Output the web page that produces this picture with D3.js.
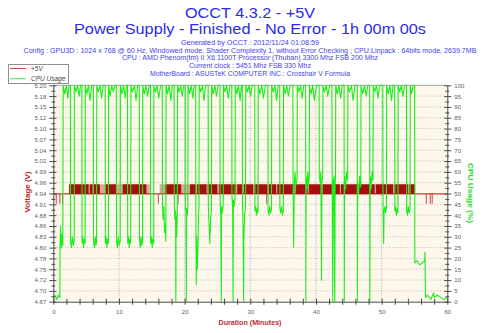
<!DOCTYPE html>
<html><head><meta charset="utf-8">
<script src="https://cdn.jsdelivr.net/npm/d3@7/dist/d3.min.js"></script>
<style>html,body{margin:0;padding:0;background:#fff;overflow:hidden}</style>
</head><body>
<svg id="c" width="500" height="333"></svg>
<script>
// ---------------- data ----------------
const titleLines = ["OCCT 4.3.2 - +5V", "Power Supply - Finished - No Error - 1h 00m 00s"];
const infoLines = [
  "Generated by OCCT : 2012/11/24 01:08:59",
  "Config : GPU3D : 1024 x 768 @ 60 Hz, Windowed mode, Shader Complexity 1, without Error Checking ; CPU:Linpack : 64bits mode, 2639.7MB",
  "CPU : AMD Phenom(tm) II X6 1100T Processor (Thuban) 3300 Mhz FSB 200 Mhz",
  "Current clock : 5451 Mhz FSB 330 Mhz",
  "MotherBoard : ASUSTeK COMPUTER INC.: Crosshair V Formula"
];
const seriesNames = ["+5V", "CPU Usage"];
const axisTitles = ["Voltage (V)", "CPU Usage (%)", "Duration (Minutes)"];
const xTickLabels = [0, 10, 20, 30, 40, 50, 60];
const voltDomain = [4.671, 5.203];
const voltTickLabels = ["4.67","4.70","4.72","4.75","4.78","4.80","4.83","4.86","4.88","4.91","4.94",
  "4.96","4.99","5.02","5.04","5.07","5.10","5.12","5.15","5.18","5.20"];
const cpuTickLabels = [0,5,10,15,20,25,30,35,40,45,50,55,60,65,70,75,80,85,90,95,100];

// voltage readings (V)
const voltLow = 4.936, voltHigh = 4.960, voltDip = 4.912;
const voltBaseline = [[0, 4.936], [60, 4.936]];
// minute spans where the reading flips rapidly between voltLow and voltHigh
const voltDenseSpans = [[2.4,5.4],[5.55,6.0],[6.15,7.1],[7.9,9.65],[10.55,14.2],[17.0,19.5],[20.8,21.75],
  [21.9,23.35],[23.5,25.0],[25.2,27.85],[28.0,28.85],[29.0,30.45],[30.6,32.65],[32.8,33.95],[34.1,36.75],
  [36.9,38.75],[38.9,40.85],[41.0,43.65],[43.8,48.95],[49.1,51.75],[51.9,54.05],[54.2,55.1]];
const voltSparseSpans = [[5.4,5.55],[6.0,6.15],[7.1,7.9],[9.65,10.55],[14.2,14.7],[16.2,17.0],[19.5,20.8],
  [21.75,21.9],[23.35,23.5],[25.0,25.2],[27.85,28.0],[28.85,29.0],[30.45,30.6],[32.65,32.8],[33.95,34.1],
  [36.75,36.9],[38.75,38.9],[40.85,41.0],[43.65,43.8],[48.95,49.1],[51.75,51.9],[54.05,54.2]];
const voltDipMinutes = [0.45, 1.0, 1.4, 16.0, 19.0, 32.5, 56.8, 57.4, 57.7];

// CPU usage [minute, %]
const cpuSeries = [
[0,2],[0.25,3],[0.5,1],[0.75,3],[1.0,2],
[1.03,27],[1.12,35],[1.22,25],[1.32,31],[1.45,26],
[1.5,100],[1.75,96],[2.0,100],[2.2,94],[2.4,100],[2.6,100],
[2.63,28],[2.75,25],[2.9,30],[3.05,26],[3.18,28],
[3.21,100],[3.45,97],[3.7,100],[3.95,95],[4.15,100],[4.35,100],
[4.38,27],[4.5,30],[4.62,25],[4.74,29],[4.84,27],
[4.87,100],[5.1,96],[5.35,100],[5.6,93],[5.85,100],[6.1,100],
[6.13,28],[6.25,25],[6.38,30],[6.5,26],[6.59,28],
[6.62,100],[6.85,97],[7.1,100],[7.35,94],[7.6,100],[7.9,100],
[7.93,27],[8.05,30],[8.17,25],[8.29,29],[8.39,27],
[8.42,100],[8.65,95],[8.9,100],[9.15,97],[9.4,100],[9.6,100],
[9.63,28],[9.75,25],[9.9,30],[10.05,26],[10.19,28],
[10.22,100],[10.45,96],[10.7,100],[10.95,94],[11.15,100],[11.3,100],
[11.33,27],[11.45,30],[11.56,25],[11.68,29],[11.79,27],
[11.82,100],[12.05,97],[12.35,100],[12.6,93],[12.85,100],[13.1,100],
[13.13,29],[13.25,25],[13.36,30],[13.48,26],[13.59,28],
[13.62,100],[13.85,96],[14.1,100],[14.35,95],[14.6,100],[14.8,100],
[14.83,27],[14.95,30],[15.06,25],[15.18,29],[15.29,27],
[15.32,100],[15.55,97],[15.8,100],[16.05,94],[16.35,100],[16.6,100],
[16.63,45],[16.74,38],[16.84,44],[16.94,32],[17.04,36],[17.14,28],
[17.17,100],[17.4,96],[17.65,100],[17.9,93],[18.15,100],[18.4,100],
[18.43,45],[18.53,38],[18.62,42],[18.66,0],[18.7,40],[18.8,30],[18.89,42],
[18.92,100],[19.15,97],[19.4,100],[19.65,95],[19.85,100],[20.08,100],
[20.11,44],[20.2,41],[20.26,0],[20.3,43],[20.4,40],[20.49,44],
[20.52,100],[20.75,96],[21.0,100],[21.25,94],[21.45,100],[21.68,100],
[21.71,44],[21.77,8],[21.83,30],[21.93,15],[22.03,25],[22.12,40],[22.19,44],
[22.22,100],[22.45,97],[22.7,100],[22.95,93],[23.2,100],[23.58,100],
[23.61,44],[23.72,35],[23.83,27],[23.95,38],[24.08,42],
[24.11,100],[24.35,96],[24.6,100],[24.85,95],[25.1,100],[25.38,100],
[25.41,45],[25.5,40],[25.58,0],[25.62,44],[25.75,41],[25.88,45],
[25.91,100],[26.15,97],[26.4,100],[26.65,94],[26.9,100],[27.18,100],
[27.21,48],[27.3,45],[27.38,0],[27.42,47],[27.55,44],[27.68,48],
[27.71,100],[27.95,96],[28.2,100],[28.45,93],[28.65,100],[28.78,100],
[28.81,45],[28.9,35],[28.98,0],[29.02,28],[29.12,40],[29.28,44],
[29.31,100],[29.55,97],[29.8,100],[30.05,95],[30.3,100],[30.68,100],
[30.71,42],[30.82,44],[30.93,40],[31.05,43],[31.18,41],
[31.21,100],[31.45,96],[31.75,100],[32.0,94],[32.3,100],[32.68,100],
[32.71,42],[32.83,40],[32.95,44],[33.1,41],[33.23,43],
[33.26,100],[33.5,97],[33.75,100],[34.0,93],[34.25,100],[34.48,100],
[34.51,43],[34.63,41],[34.76,44],[34.9,40],[35.03,42],
[35.06,100],[35.3,96],[35.55,100],[35.8,95],[36.1,100],[36.48,100],
[36.51,58],[36.6,25],[36.68,52],[36.8,60],[36.95,54],[37.13,57],
[37.16,100],[37.4,97],[37.65,100],[37.9,94],[38.15,100],[38.43,100],
[38.46,0],[38.5,58],[38.62,52],[38.75,60],[38.88,54],[38.98,57],
[39.01,100],[39.25,96],[39.5,100],[39.75,93],[40.1,100],[40.48,100],
[40.51,58],[40.62,55],[40.75,60],[40.85,10],[40.9,55],[41.03,58],
[41.06,100],[41.3,97],[41.55,100],[41.8,95],[42.1,100],[42.43,100],
[42.46,60],[42.56,0],[42.62,55],[42.75,58],[42.86,0],[42.92,56],[42.98,58],
[43.01,100],[43.25,96],[43.5,100],[43.75,94],[44.0,100],[44.28,100],
[44.31,0],[44.36,58],[44.5,52],[44.65,60],[44.83,56],
[44.86,100],[45.1,97],[45.4,100],[45.65,93],[45.95,100],[46.28,100],
[46.31,0],[46.36,55],[46.5,50],[46.65,58],[46.83,53],
[46.86,100],[47.1,96],[47.4,100],[47.65,95],[47.9,100],[48.18,100],
[48.21,0],[48.26,58],[48.4,52],[48.55,60],[48.68,56],
[48.71,100],[48.95,97],[49.2,100],[49.45,94],[49.7,100],[50.18,100],
[50.21,45],[50.3,27],[50.38,42],[50.5,44],[50.62,41],[50.73,43],
[50.76,100],[51.0,96],[51.25,100],[51.5,93],[51.75,100],[51.98,100],
[52.01,42],[52.12,44],[52.24,40],[52.36,43],[52.48,41],
[52.51,100],[52.75,97],[53.0,100],[53.25,95],[53.5,100],[53.78,100],
[53.81,42],[53.93,40],[54.05,44],[54.2,41],[54.33,43],
[54.36,100],[54.55,96],[54.8,100],[55.03,100],
[55.06,18],[55.4,19],[55.8,17],[56.2,18],[56.55,19],[56.6,23],[56.64,10],[56.68,2],
[57.0,3],[57.5,1],[57.9,4],[58.0,2],[58.5,3],[59.0,2],[59.5,1],[60,2]
];

// ---------------- drawing ----------------
const svg = d3.select("#c");
const P = {l: 53.3, r: 447.3, t: 85.3, b: 301.7};
const x = d3.scaleLinear().domain([0, 60]).range([P.l, P.r]);
const yV = d3.scaleLinear().domain(voltDomain).range([P.b, P.t]);
const yC = d3.scaleLinear().domain([0, 100]).range([P.b, P.t]);
const voltTickValues = voltTickLabels.map((_, i) => voltDomain[0] + i * (voltDomain[1] - voltDomain[0]) / (voltTickLabels.length - 1));

svg.append("rect").attr("width", 500).attr("height", 333).attr("fill", "#fff");

// titles
const blue = "#2b2be6";
svg.append("text").attr("x", 250).attr("y", 17.5).attr("text-anchor", "middle")
  .attr("font-family", "Liberation Sans, Arial, sans-serif").attr("font-size", 15).attr("fill", blue)
  .attr("textLength", 130).attr("lengthAdjust", "spacingAndGlyphs").text(titleLines[0]);
svg.append("text").attr("x", 250).attr("y", 33.5).attr("text-anchor", "middle")
  .attr("font-family", "Liberation Sans, Arial, sans-serif").attr("font-size", 15).attr("fill", blue)
  .attr("textLength", 352).attr("lengthAdjust", "spacingAndGlyphs").text(titleLines[1]);
const infoY = [44.7, 52.5, 60.2, 67.9, 75.5];
const infoW = [138, 453, 256, 122, 200];
infoLines.forEach((t, i) => {
  svg.append("text").attr("x", 250).attr("y", infoY[i]).attr("text-anchor", "middle")
    .attr("font-family", "Liberation Sans, Arial, sans-serif").attr("font-size", 7).attr("fill", "#4444e8")
    .attr("textLength", infoW[i]).attr("lengthAdjust", "spacingAndGlyphs").text(t);
});

// plot background
svg.append("rect").attr("x", P.l).attr("y", P.t).attr("width", P.r - P.l).attr("height", P.b - P.t)
  .attr("fill", "#fdf8eb");

// grid
const grid = svg.append("g");
grid.selectAll("line.h").data(cpuTickLabels.filter(v => v > 0 && v < 100)).enter().append("line")
  .attr("x1", P.l).attr("x2", P.r).attr("y1", d => yC(d)).attr("y2", d => yC(d))
  .attr("stroke", "#a8a8a8").attr("stroke-width", 0.8).attr("stroke-dasharray", "1,2");
grid.selectAll("line.v").data(xTickLabels.filter(v => v > 0 && v < 60)).enter().append("line")
  .attr("y1", P.t).attr("y2", P.b).attr("x1", d => x(d)).attr("x2", d => x(d))
  .attr("stroke", "#9a9a9a").attr("stroke-width", 0.8).attr("stroke-dasharray", "1,1.5");
svg.append("line").attr("x1", P.l).attr("x2", P.r).attr("y1", P.t).attr("y2", P.t)
  .attr("stroke", "#a0a0a0").attr("stroke-width", 1);

// voltage
svg.append("clipPath").attr("id", "pc").append("rect")
  .attr("x", P.l).attr("y", P.t - 1).attr("width", P.r - P.l).attr("height", P.b - P.t + 1);
const plot = svg.append("g").attr("clip-path", "url(#pc)");
const red = "#a50f0f";
const band = d3.area().x(d => x(d)).y0(yV(voltLow)).y1(yV(voltHigh));
plot.selectAll("path.sp").data(voltSparseSpans).enter().append("path")
  .attr("d", d => band(d)).attr("fill", red).attr("opacity", 0.35);
plot.append("path").datum(voltBaseline)
  .attr("d", d3.line().x(d => x(d[0])).y(d => yV(d[1])))
  .attr("fill", "none").attr("stroke", "#b01818").attr("stroke-width", 1);
plot.selectAll("line.dip").data(voltDipMinutes).enter().append("line")
  .attr("x1", d => x(d)).attr("x2", d => x(d)).attr("y1", yV(voltLow)).attr("y2", yV(voltDip))
  .attr("stroke", "#c03030").attr("stroke-width", 0.9);
plot.selectAll("path.dn").data(voltDenseSpans).enter().append("path")
  .attr("d", d => band(d)).attr("fill", red);

// cpu
plot.append("path").datum(cpuSeries)
  .attr("d", d3.line().x(d => x(d[0])).y(d => yC(d[1])))
  .attr("fill", "none").attr("stroke", "#1aee1a").attr("stroke-width", 1.1).attr("stroke-linejoin", "round");

// axes
const axCol = "#4a4a4a";
const tickFont = g => g.selectAll("text").attr("font-family", "Liberation Sans, Arial, sans-serif")
  .attr("font-size", 6).attr("fill", "#606060");

const left = svg.append("g").attr("transform", `translate(${P.l},0)`)
  .call(d3.axisLeft(yV).tickValues(voltTickValues).tickFormat((d, i) => voltTickLabels[i])
    .tickSizeInner(4).tickSizeOuter(0).tickPadding(3));
left.selectAll("line").attr("x1", 3).attr("stroke", axCol);
left.select(".domain").attr("stroke", axCol);
tickFont(left);
const leftMinor = svg.append("g").attr("transform", `translate(${P.l},0)`)
  .call(d3.axisLeft(yV).tickValues(voltTickValues.slice(1).map((v, i) => (v + voltTickValues[i]) / 2))
    .tickFormat("").tickSizeInner(2).tickSizeOuter(0));
leftMinor.selectAll("line").attr("x1", 2).attr("stroke", axCol);
leftMinor.select(".domain").remove();

const right = svg.append("g").attr("transform", `translate(${P.r},0)`)
  .call(d3.axisRight(yC).tickValues(cpuTickLabels).tickSizeInner(4).tickSizeOuter(0).tickPadding(3));
right.selectAll("line").attr("x1", -3).attr("stroke", axCol);
right.select(".domain").attr("stroke", axCol);
tickFont(right);
const rightMinor = svg.append("g").attr("transform", `translate(${P.r},0)`)
  .call(d3.axisRight(yC).tickValues(cpuTickLabels.slice(1).map(v => v - 2.5)).tickFormat("")
    .tickSizeInner(2).tickSizeOuter(0));
rightMinor.selectAll("line").attr("x1", -2).attr("stroke", axCol);
rightMinor.select(".domain").remove();

const bottom = svg.append("g").attr("transform", `translate(0,${P.b})`)
  .call(d3.axisBottom(x).tickValues(d3.range(0, 61, 2))
    .tickFormat(d => xTickLabels.includes(d) ? d : "").tickSizeInner(3).tickSizeOuter(0).tickPadding(5));
bottom.selectAll("line").attr("y1", -3).attr("stroke", axCol);
bottom.select(".domain").attr("stroke", axCol);
tickFont(bottom);

// axis titles
svg.append("text").attr("transform", "translate(30.3,192) rotate(-90)").attr("text-anchor", "middle")
  .attr("font-family", "Liberation Sans, Arial, sans-serif").attr("font-weight", "bold").attr("font-size", 8)
  .attr("fill", "#bb2a2a").attr("textLength", 41).attr("lengthAdjust", "spacingAndGlyphs").text(axisTitles[0]);
svg.append("text").attr("transform", "translate(468.3,193) rotate(90)").attr("text-anchor", "middle")
  .attr("font-family", "Liberation Sans, Arial, sans-serif").attr("font-weight", "bold").attr("font-size", 8)
  .attr("fill", "#22dd22").attr("textLength", 60).attr("lengthAdjust", "spacingAndGlyphs").text(axisTitles[1]);
svg.append("text").attr("x", 250).attr("y", 325).attr("text-anchor", "middle")
  .attr("font-family", "Liberation Sans, Arial, sans-serif").attr("font-weight", "bold").attr("font-size", 8)
  .attr("fill", "#b83040").attr("textLength", 63).attr("lengthAdjust", "spacingAndGlyphs").text(axisTitles[2]);

// legend
const lg = svg.append("g");
lg.append("rect").attr("x", 8.5).attr("y", 64.5).attr("width", 60).attr("height", 19)
  .attr("fill", "#fff").attr("stroke", "#909090").attr("stroke-width", 1);
const legColors = ["#d04040", "#44ee44"];
seriesNames.forEach((n, i) => {
  const yy = 68.5 + i * 10.2;
  lg.append("line").attr("x1", 10).attr("x2", 26).attr("y1", yy).attr("y2", yy)
    .attr("stroke", legColors[i]).attr("stroke-width", 1);
  lg.append("text").attr("x", 31).attr("y", yy + 2.5).attr("font-family", "Liberation Sans, Arial, sans-serif")
    .attr("font-style", "italic").attr("font-size", 6.5).attr("fill", "#444").text(n);
});
</script>
</body></html>
